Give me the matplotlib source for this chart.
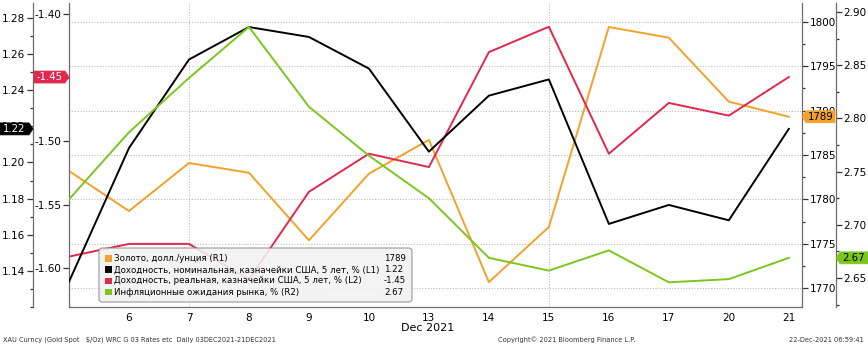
import matplotlib
matplotlib.use("Agg")
import matplotlib.pyplot as plt
from matplotlib.patches import Polygon, FancyBboxPatch, Rectangle
from matplotlib.transforms import IdentityTransform
from matplotlib.ticker import MultipleLocator, FixedLocator, FormatStrFormatter

# data: 03 Dec 2021 .. 21 Dec 2021 (trading days)
days = ["3", "6", "7", "8", "9", "10", "13", "14", "15", "16", "17", "20", "21"]
gold = [1783.2, 1778.7, 1784.1, 1783.0, 1775.4, 1782.9, 1786.7,
        1770.7, 1776.9, 1799.4, 1798.2, 1791.0, 1789.3]
nominal = [1.134, 1.208, 1.257, 1.275, 1.2695, 1.252, 1.206,
           1.237, 1.246, 1.166, 1.1765, 1.168, 1.2186]
real = [-1.591, -1.581, -1.581, -1.609, -1.540, -1.510, -1.5205,
        -1.430, -1.410, -1.510, -1.470, -1.480, -1.4496]
breakeven = [2.724, 2.787, 2.838, 2.886, 2.811, 2.765, 2.725,
             2.669, 2.657, 2.676, 2.646, 2.649, 2.669]

names = [
    "Золото, долл./унция (R1)",
    "Доходность, номинальная, казначейки США, 5 лет, % (L1)",
    "Доходность, реальная, казначейки США, 5 лет, % (L2)",
    "Инфляционные ожидания рынка, % (R2)",
]
last_labels = ["1789", "1.22", "-1.45", "2.67"]
l1_ticks = [1.14, 1.16, 1.18, 1.20, 1.22, 1.24, 1.26, 1.28]

ORANGE = "#f2a22a"
BLACK = "#000000"
RED = "#e2284c"
GREEN = "#7cc61e"
SPINE = "#6e6e6e"

W, H = 868, 347
fig = plt.figure(figsize=(W / 100, H / 100), dpi=100)
fig.patch.set_facecolor("white")

# plot area in pixels (from top-left)
x0, x1, y0, y1 = 69, 802, 3, 307
ax = fig.add_axes([x0 / W, 1 - y1 / H, (x1 - x0) / W, (y1 - y0) / H])
ax_l2 = ax.twinx()
ax_l1 = ax.twinx()
ax_r2 = ax.twinx()

x = list(range(len(days)))

# host axis: gold on R1 + grid
ax.yaxis.tick_right()
ax.yaxis.set_label_position("right")
ax.set_xlim(0, 12.22)
ax.set_ylim(1767.9, 1802.1)
ax.yaxis.set_major_locator(MultipleLocator(5))
ax.yaxis.set_minor_locator(MultipleLocator(2.5))
ax.grid(axis="y", which="major", ls=(0, (1, 1.5)), color="#bdbdbd", lw=0.8)
for i in (2, 8):
    ax.axvline(i, ls=(0, (1, 1.5)), color="#bdbdbd", lw=0.8)
ax.plot(x, gold, color=ORANGE, lw=1.4)
ax.set_xticks(x[1:])
ax.set_xticklabels(days[1:])
ax.tick_params(axis="x", length=0, pad=4, labelsize=7.5)
for s in ("top", "left"):
    ax.spines[s].set_visible(False)

ax_l2.yaxis.tick_left()
ax_l2.set_ylim(-1.6307, -1.3913)
ax_l2.yaxis.set_major_locator(MultipleLocator(0.05))
ax_l2.plot(x, real, color=RED, lw=1.4)

ax_l1.yaxis.tick_left()
ax_l1.spines["left"].set_position(("axes", -36 / (x1 - x0)))
ax_l1.set_ylim(1.12, 1.2883)
ax_l1.yaxis.set_major_locator(FixedLocator(l1_ticks))
ax_l1.yaxis.set_minor_locator(MultipleLocator(0.01))
ax_l1.plot(x, nominal, color=BLACK, lw=1.4)

ax_r2.spines["right"].set_position(("axes", (836 - x0) / (x1 - x0)))
ax_r2.set_ylim(2.6228, 2.9085)
ax_r2.yaxis.set_major_locator(MultipleLocator(0.05))
ax_r2.yaxis.set_minor_locator(MultipleLocator(0.025))
ax_r2.plot(x, breakeven, color=GREEN, lw=1.4)

for a in (ax_l2, ax_l1, ax_r2):
    for s in a.spines.values():
        s.set_visible(False)
ax_l2.spines["left"].set_visible(True)
ax_l1.spines["left"].set_visible(True)
ax_r2.spines["right"].set_visible(True)

for a in (ax, ax_l2, ax_l1, ax_r2):
    for s in a.spines.values():
        s.set_color(SPINE)
        s.set_linewidth(0.9)
    a.tick_params(axis="y", which="major", direction="out", length=4,
                  width=0.9, color="#333333", labelsize=7.5, pad=1.5)
    a.tick_params(axis="y", which="minor", direction="out", length=2.5,
                  width=0.9, color="#333333")

ax_l1.yaxis.set_major_formatter(FormatStrFormatter("%.2f"))
ax_l2.yaxis.set_major_formatter(FormatStrFormatter("%.2f"))
ax_r2.yaxis.set_major_formatter(FormatStrFormatter("%.2f"))
ax.yaxis.set_major_formatter(FormatStrFormatter("%d"))

ID = IdentityTransform()


def Y(y):
    return H - y


def badge(tip, y_disp, body_end, color, text, tcolor):
    # tag shape pointing at the axis spine
    h = 6
    d = 4 if body_end < tip else -4
    pts = [(body_end, y_disp - h), (tip - d, y_disp - h), (tip, y_disp),
           (tip - d, y_disp + h), (body_end, y_disp + h)]
    fig.add_artist(Polygon(pts, closed=True, transform=ID, facecolor=color,
                           edgecolor=color, lw=0.5, zorder=5))
    fig.text((body_end + tip - d) / 2, y_disp, text, transform=ID,
             ha="center", va="center", fontsize=7.3, color=tcolor, zorder=6)


def ydisp(a, v):
    return a.transData.transform((0, v))[1]


badge(802, ydisp(ax, gold[-1]), 835, ORANGE, last_labels[0], "black")
badge(33, ydisp(ax_l1, nominal[-1]), 0, BLACK, last_labels[1], "white")
badge(69, ydisp(ax_l2, real[-1]), 34, RED, last_labels[2], "white")
badge(836, ydisp(ax_r2, breakeven[-1]), 868, GREEN, last_labels[3], "black")

# legend box
lx0, lx1, ly0, ly1 = 99, 412, 248, 302
fig.add_artist(FancyBboxPatch((lx0, Y(ly1)), lx1 - lx0, ly1 - ly0,
                              boxstyle="round,pad=0,rounding_size=3",
                              transform=ID, facecolor="#f2f2f2",
                              edgecolor="#8c8c8c", lw=0.8, alpha=0.88,
                              zorder=7))
for i, (name, val, c) in enumerate(zip(names, last_labels,
                                       [ORANGE, BLACK, RED, GREEN])):
    yy = Y(258.5 + 11.2 * i)
    fig.add_artist(Rectangle((105, yy - 3.2), 6.5, 6.5, transform=ID,
                             facecolor=c, edgecolor="none", zorder=8))
    fig.text(114, yy, name, transform=ID, ha="left", va="center",
             fontsize=6.2, zorder=8)
    fig.text(384, yy, val, transform=ID, ha="left", va="center",
             fontsize=6.2, zorder=8)

fig.text(428 / W, 1 - 328 / H, "Dec 2021", ha="center", va="center",
         fontsize=8)
fig.text(3 / W, 1 - 340 / H,
         "XAU Curncy (Gold Spot   $/Oz) WRC G 03 Rates etc  Daily 03DEC2021-21DEC2021",
         ha="left", va="center", fontsize=4.8, color="#333333")
fig.text(498 / W, 1 - 340 / H, "Copyright© 2021 Bloomberg Finance L.P.",
         ha="left", va="center", fontsize=4.8, color="#333333")
fig.text(864 / W, 1 - 340 / H, "22-Dec-2021 06:59:41",
         ha="right", va="center", fontsize=4.8, color="#333333")

fig.savefig("out.png", dpi=100)
